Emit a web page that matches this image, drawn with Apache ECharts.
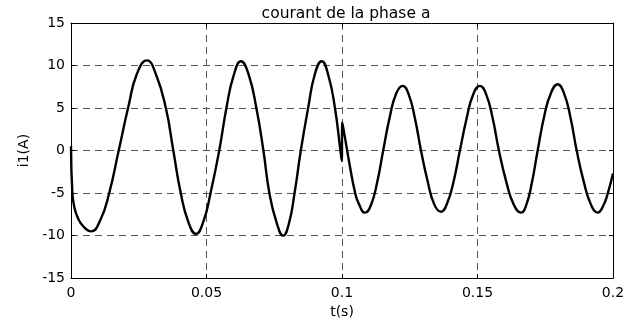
<!DOCTYPE html>
<html>
<head>
<meta charset="utf-8">
<script src="https://cdn.jsdelivr.net/npm/echarts@6/dist/echarts.min.js"></script>
<style>
  html, body { margin: 0; padding: 0; background: #fff; }
  #chart { width: 635px; height: 324px; }
</style>
</head>
<body>
<div id="chart"></div>
<script>
// Phase-a current i1 (A) sampled at these instants (ms)
var timeMs = [
  0.0, 0.5, 1.2, 2.5, 4.5, 7.4, 10.8, 14.1, 17.6, 21.2, 24.3, 28.0,
  31.3, 35.0, 37.75, 40.5, 43.3, 46.1, 48.9, 51.5, 54.7, 57.4, 60.0, 62.7,
  65.5, 68.4, 71.0, 73.2, 75.9, 78.3, 80.4, 82.5, 84.8, 87.5, 90.0, 92.5,
  95.0, 97.4, 99.3, 99.9, 100.1, 101.1, 103.0, 104.8, 106.0, 108.5, 110.7, 113.0,
  115.2, 117.6, 120.0, 122.4, 124.6, 126.9, 129.15, 131.6, 134.0, 136.5, 138.8, 141.2,
  143.5, 146.0, 148.4, 150.9, 153.2, 155.6, 157.9, 160.6, 163.3, 166.05, 168.1, 170.15,
  172.2, 174.8, 177.1, 179.6, 181.9, 184.3, 186.6, 189.2, 191.8, 194.35, 196.4, 198.1,
  200.0
];
var current = [
  0.5, -5.0, -6.6, -7.9, -8.9, -9.5, -8.2, -5.0, 0.0, 5.2, 9.0, 10.6,
  9.0, 5.0, 0.0, -5.0, -8.4, -9.8, -8.3, -5.0, 0.0, 5.1, 8.8, 10.5,
  9.0, 5.0, 0.0, -5.0, -8.5, -10.0, -8.6, -5.0, 0.0, 5.0, 9.0, 10.5,
  8.8, 5.0, 0.3, -1.2, 3.3, 1.5, -2.0, -4.9, -6.1, -7.3, -6.4, -3.7,
  0.0, 3.9, 6.7, 7.6, 6.6, 3.8, 0.0, -3.6, -6.3, -7.2, -6.2, -3.6,
  0.0, 3.8, 6.6, 7.6, 6.6, 3.8, 0.0, -3.65, -6.3, -7.3, -6.3, -3.65,
  0.0, 4.3, 6.75, 7.8, 6.75, 3.9, 0.0, -3.65, -6.3, -7.3, -6.5, -5.0,
  -2.7
];
var xTicks = [0, 0.05, 0.1, 0.15, 0.2];
var yTicks = [-15, -10, -5, 0, 5, 10, 15];

var FONT = 'DejaVu Sans';
var points = timeMs.map(function (t, i) { return [t / 1000, current[i]]; });

var chart = echarts.init(document.getElementById('chart'), null, { renderer: 'canvas' });

var dash = { color: '#555', width: 1, type: [7, 5] };
function xAxisBase(pos, showLabels) {
  return {
    type: 'value', position: pos,
    min: xTicks[0], max: xTicks[xTicks.length - 1], interval: 0.05,
    axisLine: { show: true, onZero: false, lineStyle: { color: '#000', width: 1 } },
    axisTick: { show: true, inside: true, length: 4, lineStyle: { color: '#000' } },
    axisLabel: {
      show: showLabels, color: '#000', fontFamily: FONT, fontSize: 14, margin: 8,
      formatter: function (v) { return String(+v.toFixed(2)); }
    },
    splitLine: { show: showLabels, lineStyle: dash }
  };
}
function yAxisBase(pos, showLabels) {
  return {
    type: 'value', position: pos,
    min: yTicks[0], max: yTicks[yTicks.length - 1], interval: 5,
    axisLine: { show: true, onZero: false, lineStyle: { color: '#000', width: 1 } },
    axisTick: { show: true, inside: true, length: 4, lineStyle: { color: '#000' } },
    axisLabel: { show: showLabels, color: '#000', fontFamily: FONT, fontSize: 14, margin: 6 },
    splitLine: { show: showLabels, lineStyle: dash }
  };
}

var xMain = xAxisBase('bottom', true);
xMain.name = 't(s)';
xMain.nameLocation = 'middle';
xMain.nameGap = 24;
xMain.nameTextStyle = { color: '#000', fontFamily: FONT, fontSize: 14 };
var yMain = yAxisBase('left', true);
yMain.name = 'i1(A)';
yMain.nameLocation = 'middle';
yMain.nameGap = 32;
yMain.nameTextStyle = { color: '#000', fontFamily: FONT, fontSize: 14 };

chart.setOption({
  animation: false,
  backgroundColor: '#fff',
  title: {
    text: 'courant de la phase a',
    left: 341, top: 1, textAlign: 'center',
    textStyle: { color: '#000', fontFamily: FONT, fontSize: 15.5, fontWeight: 'normal' }
  },
  grid: { left: 71, right: 22, top: 23, bottom: 36, containLabel: false },
  xAxis: [xMain, xAxisBase('top', false)],
  yAxis: [yMain, yAxisBase('right', false)],
  series: [{
    type: 'line',
    xAxisIndex: 0, yAxisIndex: 0,
    data: points,
    showSymbol: false,
    smooth: 0.5,
    lineStyle: { color: '#000', width: 2.4 }
  }]
});
</script>
</body>
</html>
